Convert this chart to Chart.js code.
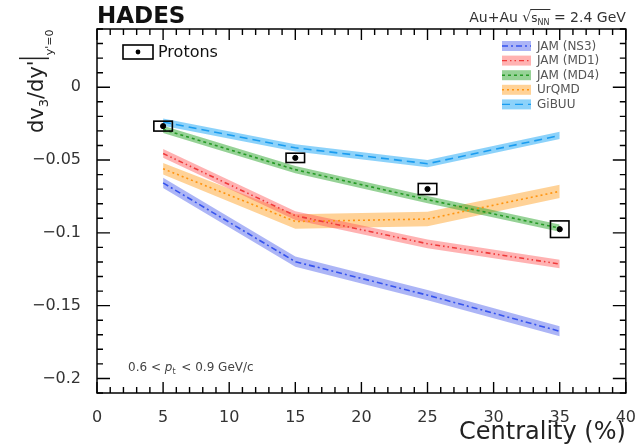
<!DOCTYPE html>
<html lang="en">
<head>
  <meta charset="UTF-8" />
  <title>HADES dv3/dy' vs centrality</title>
  <style>
    html, body { margin: 0; padding: 0; background: #fff; }
    #wrap { width: 643px; height: 448px; }
  </style>
</head>
<body>
  <div id="wrap"><canvas id="v3Chart"></canvas></div>

  <script src="https://cdn.jsdelivr.net/npm/chart.js"></script>
  <script>
    // centrality bins (%)
    const centrality = [5, 15, 25, 35];

    // model curves, centre values and band half-widths
    const modelNames = ['JAM (NS3)', 'JAM (MD1)', 'JAM (MD4)', 'UrQMD', 'GiBUU'];
    const jamNS3 = [-0.0657, -0.1198, -0.1428, -0.1676];
    const jamNS3Err = [0.0035, 0.0035, 0.0035, 0.0035];
    const jamMD1 = [-0.0455, -0.0882, -0.1075, -0.1214];
    const jamMD1Err = [0.003, 0.003, 0.003, 0.003];
    const jamMD4 = [-0.0290, -0.0566, -0.0772, -0.0968];
    const jamMD4Err = [0.0025, 0.0025, 0.0025, 0.0025];
    const urqmd = [-0.0560, -0.0922, -0.0905, -0.0715];
    const urqmdErr = [0.004, 0.005, 0.005, 0.0045];
    const gibuu = [-0.0239, -0.0416, -0.0525, -0.0331];
    const gibuuErr = [0.0025, 0.0025, 0.0025, 0.0025];

    // HADES protons
    const protonV3 = [-0.0267, -0.0485, -0.0699, -0.0975];
    const protonSys = [0.0034, 0.0032, 0.0038, 0.0057];

    // axis tick labels
    const xTickValues = [0, 5, 10, 15, 20, 25, 30, 35, 40];
    const yTickValues = [0, -0.05, -0.1, -0.15, -0.2];

    const models = [
      { name: modelNames[0], c: jamNS3, e: jamNS3Err, line: '#3553ee', band: 'rgba(70,90,235,0.45)', dash: [6, 3, 2, 3] },
      { name: modelNames[1], c: jamMD1, e: jamMD1Err, line: '#f03a3a', band: 'rgba(255,85,85,0.45)', dash: [5, 3, 1.5, 3, 1.5, 3] },
      { name: modelNames[2], c: jamMD4, e: jamMD4Err, line: '#259a25', band: 'rgba(45,165,45,0.5)', dash: [3, 3] },
      { name: modelNames[3], c: urqmd, e: urqmdErr, line: '#ff9410', band: 'rgba(255,155,25,0.45)', dash: [2, 3] },
      { name: modelNames[4], c: gibuu, e: gibuuErr, line: '#1a9cf0', band: 'rgba(25,165,245,0.5)', dash: [8, 5] }
    ];

    const pts = arr => centrality.map((x, i) => ({ x, y: arr[i] }));

    const datasets = [];
    models.forEach(m => {
      datasets.push({
        data: pts(m.c.map((v, i) => v - m.e[i])),
        borderWidth: 0, pointRadius: 0, fill: false, order: 3
      });
      datasets.push({
        data: pts(m.c.map((v, i) => v + m.e[i])),
        borderWidth: 0, pointRadius: 0, fill: '-1', backgroundColor: m.band, order: 3
      });
    });
    models.forEach(m => {
      datasets.push({
        data: pts(m.c),
        borderColor: m.line, borderWidth: 1.6, borderDash: m.dash,
        pointRadius: 0, fill: false, order: 2
      });
    });
    datasets.push({
      type: 'scatter',
      data: pts(protonV3),
      pointStyle: 'circle', pointRadius: 2.6,
      backgroundColor: '#000', borderColor: '#000', order: 0
    });

    const decor = {
      id: 'decor',
      afterDatasetsDraw(chart) {
        const { ctx, scales: { x, y } } = chart;
        ctx.save();
        ctx.strokeStyle = '#000';
        ctx.lineWidth = 1.6;
        centrality.forEach((c, i) => {
          const l = x.getPixelForValue(c - 0.7), r = x.getPixelForValue(c + 0.7);
          const t = y.getPixelForValue(protonV3[i] + protonSys[i]);
          const b = y.getPixelForValue(protonV3[i] - protonSys[i]);
          ctx.strokeRect(l, t, r - l, b - t);
        });
        ctx.restore();
      },
      afterDraw(chart) {
        const { ctx, chartArea: a, scales: { x, y } } = chart;
        ctx.save();
        ctx.strokeStyle = '#000';
        ctx.lineWidth = 1.4;
        ctx.beginPath();
        for (let v = 0; v <= 40; v++) {
          const px = x.getPixelForValue(v);
          const len = v % 5 === 0 ? 11 : 6;
          ctx.moveTo(px, a.bottom); ctx.lineTo(px, a.bottom - len);
          ctx.moveTo(px, a.top); ctx.lineTo(px, a.top + len);
        }
        for (let k = -21; k <= 4; k++) {
          const py = y.getPixelForValue(k / 100);
          const len = k % 5 === 0 ? 13 : 6;
          ctx.moveTo(a.left, py); ctx.lineTo(a.left + len, py);
          ctx.moveTo(a.right, py); ctx.lineTo(a.right - len, py);
        }
        ctx.stroke();
        ctx.lineWidth = 1.5;
        ctx.strokeRect(a.left, a.top, a.right - a.left, a.bottom - a.top);

        // header
        ctx.fillStyle = '#111';
        ctx.textBaseline = 'alphabetic';
        ctx.font = "bold 23px 'DejaVu Sans'";
        ctx.fillText('HADES', 97, 23);

        ctx.fillStyle = '#333';
        const parts = [
          ['Au+Au ', "14px 'DejaVu Sans'", 0],
          ['\u221A', "14px 'DejaVu Sans'", 0],
          ['s', "12px 'DejaVu Sans'", 0],
          ['NN', "8px 'DejaVu Sans'", 3],
          [' = 2.4 GeV', "14px 'DejaVu Sans'", 0]
        ];
        let total = 0;
        parts.forEach(p => { ctx.font = p[1]; total += ctx.measureText(p[0]).width; });
        let cx = a.right - total, rootStart = 0, rootEnd = 0;
        parts.forEach((p, i) => {
          ctx.font = p[1];
          ctx.fillText(p[0], cx, 22 + p[2]);
          const w = ctx.measureText(p[0]).width;
          if (i === 1) rootStart = cx + w - 1;
          if (i === 3) rootEnd = cx + w + 1;
          cx += w;
        });
        ctx.lineWidth = 1;
        ctx.strokeStyle = '#333';
        ctx.beginPath();
        ctx.moveTo(rootStart, 9.5); ctx.lineTo(rootEnd, 9.5);
        ctx.stroke();

        // protons legend
        ctx.strokeStyle = '#000';
        ctx.lineWidth = 1.6;
        ctx.strokeRect(123, 45, 30, 14);
        ctx.fillStyle = '#000';
        ctx.beginPath();
        ctx.arc(138, 52, 2.4, 0, Math.PI * 2);
        ctx.fill();
        ctx.fillStyle = '#111';
        ctx.font = "16px 'DejaVu Sans'";
        ctx.fillText('Protons', 158, 57);

        // model legend
        models.forEach((m, i) => {
          const cy = 46 + i * 14.6;
          ctx.fillStyle = m.band;
          ctx.fillRect(502, cy - 5, 29, 10);
          ctx.strokeStyle = m.line;
          ctx.lineWidth = 1.4;
          ctx.setLineDash(m.dash);
          ctx.beginPath();
          ctx.moveTo(502, cy); ctx.lineTo(531, cy);
          ctx.stroke();
          ctx.setLineDash([]);
          ctx.fillStyle = '#555';
          ctx.font = "12px 'DejaVu Sans'";
          ctx.textBaseline = 'middle';
          ctx.fillText(m.name, 537, cy + 0.5);
          ctx.textBaseline = 'alphabetic';
        });

        // pt range note
        ctx.fillStyle = '#444';
        ctx.font = "12px 'DejaVu Sans'";
        let nx = 128;
        const note1 = '0.6 < ';
        ctx.fillText(note1, nx, 371); nx += ctx.measureText(note1).width;
        ctx.font = "italic 12px 'DejaVu Sans'";
        ctx.fillText('p', nx, 371); nx += ctx.measureText('p').width;
        ctx.font = "8px 'DejaVu Sans'";
        ctx.fillText('t', nx, 374); nx += ctx.measureText('t').width + 2;
        ctx.font = "12px 'DejaVu Sans'";
        ctx.fillText(' < 0.9 GeV/c', nx, 371);

        // x title
        ctx.fillStyle = '#222';
        ctx.font = "24px 'DejaVu Sans'";
        ctx.textAlign = 'right';
        ctx.fillText('Centrality (%)', a.right, 439);
        ctx.textAlign = 'left';

        // y title, rotated
        ctx.translate(43, 133);
        ctx.rotate(-Math.PI / 2);
        let tx = 0;
        const big = "21px 'DejaVu Sans'";
        ctx.font = big;
        ctx.fillText('dv', tx, 0); tx += ctx.measureText('dv').width;
        ctx.font = "13px 'DejaVu Sans'";
        ctx.fillText('3', tx, 5); tx += ctx.measureText('3').width;
        ctx.font = big;
        ctx.fillText("/dy'", tx, 0); tx += ctx.measureText("/dy'").width + 2;
        ctx.lineWidth = 1.5;
        ctx.strokeStyle = '#222';
        ctx.beginPath();
        ctx.moveTo(tx, -24); ctx.lineTo(tx, 6);
        ctx.stroke();
        tx += 3;
        ctx.font = "11px 'DejaVu Sans'";
        ctx.fillText("y'=0", tx, 10);
        ctx.restore();
      }
    };

    Chart.defaults.font.family = "'DejaVu Sans', sans-serif";

    new Chart(document.getElementById('v3Chart'), {
      type: 'line',
      data: { datasets },
      plugins: [decor],
      options: {
        responsive: true,
        maintainAspectRatio: false,
        animation: false,
        devicePixelRatio: 1,
        layout: { padding: { left: 0, right: 16, top: 29, bottom: 0 } },
        plugins: {
          legend: { display: false },
          tooltip: { enabled: false },
          filler: { drawTime: 'beforeDatasetsDraw' }
        },
        scales: {
          x: {
            type: 'linear', min: 0, max: 40,
            grid: { display: false },
            border: { display: false },
            ticks: { color: '#333', font: { size: 16 }, padding: 7, autoSkip: false, maxRotation: 0 },
            afterBuildTicks: s => { s.ticks = xTickValues.map(v => ({ value: v })); },
            afterFit: s => { s.height = 55; }
          },
          y: {
            type: 'linear', min: -0.21, max: 0.04,
            grid: { display: false },
            border: { display: false },
            ticks: {
              color: '#333', font: { size: 16 }, padding: 8, autoSkip: false,
              callback: v => v === 0 ? '0' : '\u2212' + Math.abs(v)
            },
            afterBuildTicks: s => { s.ticks = yTickValues.map(v => ({ value: v })); },
            afterFit: s => { s.width = 97; }
          }
        }
      }
    });
  </script>
</body>
</html>
